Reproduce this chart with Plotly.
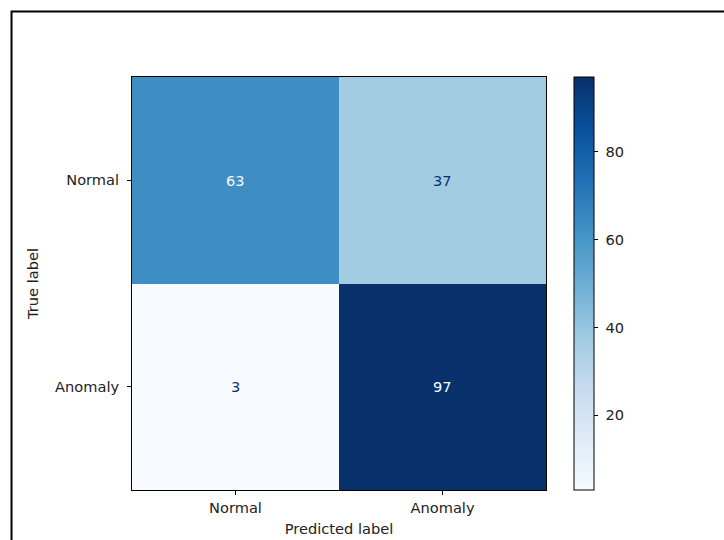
import plotly.graph_objects as go

# Confusion matrix: rows = true label, columns = predicted label
labels = ["Normal", "Anomaly"]
counts = [[63, 37],
          [3, 97]]
cbar_ticks = [20, 40, 60, 80]

blues = ["#f7fbff", "#deebf7", "#c6dbef", "#9ecae1", "#6baed6",
         "#4292c6", "#2171b5", "#08519c", "#08306b"]
colorscale = [[i / (len(blues) - 1), c] for i, c in enumerate(blues)]

flat = [v for row in counts for v in row]
vmin, vmax = min(flat), max(flat)
thresh = (vmin + vmax) / 2

FS = 14.6

fig = go.Figure()
fig.add_trace(go.Heatmap(
    z=counts, x=labels, y=labels,
    colorscale=colorscale, zmin=vmin, zmax=vmax,
    xgap=0, ygap=0, hoverinfo="skip",
    colorbar=dict(
        x=1.0675, xanchor="left", y=0.5, yanchor="middle",
        len=1.0, lenmode="fraction", thickness=20, thicknessmode="pixels",
        outlinecolor="black", outlinewidth=1,
        tickmode="array", tickvals=cbar_ticks,
        ticktext=["\u00a0" + str(t) for t in cbar_ticks],
        ticks="outside", ticklen=4, tickcolor="black",
        tickfont=dict(size=FS, color="#222"),
        xpad=0, ypad=0,
    ),
))

# Cell value labels, light text on dark cells and dark text on light cells
for i, row in enumerate(counts):
    for j, v in enumerate(row):
        fig.add_annotation(
            x=labels[j], y=labels[i], text=str(v), showarrow=False,
            font=dict(size=FS, color=blues[0] if v > thresh else blues[-1]),
        )

# Figure frame
fig.add_shape(type="rect", xref="paper", yref="paper",
              x0=-0.291, x1=3.0, y0=-2.0, y1=1.1586,
              line=dict(color="black", width=2), layer="above")

fig.update_layout(
    width=724, height=540,
    margin=dict(l=132, r=178, t=77, b=50),
    paper_bgcolor="white", plot_bgcolor="white",
    font=dict(family="DejaVu Sans", size=FS, color="#222"),
    xaxis=dict(
        title=dict(text="Predicted label", standoff=9, font=dict(size=FS)),
        automargin=False,
        showline=True, linecolor="black", linewidth=1, mirror=True,
        ticks="outside", ticklen=4, tickcolor="black", showgrid=False,
        zeroline=False,
    ),
    yaxis=dict(
        title=dict(text="True label", standoff=12, font=dict(size=FS)),
        automargin=False, ticklabelstandoff=5,
        autorange="reversed",
        showline=True, linecolor="black", linewidth=1, mirror=True,
        ticks="outside", ticklen=4, tickcolor="black", showgrid=False,
        zeroline=False,
    ),
)

fig.write_html("out.html")
